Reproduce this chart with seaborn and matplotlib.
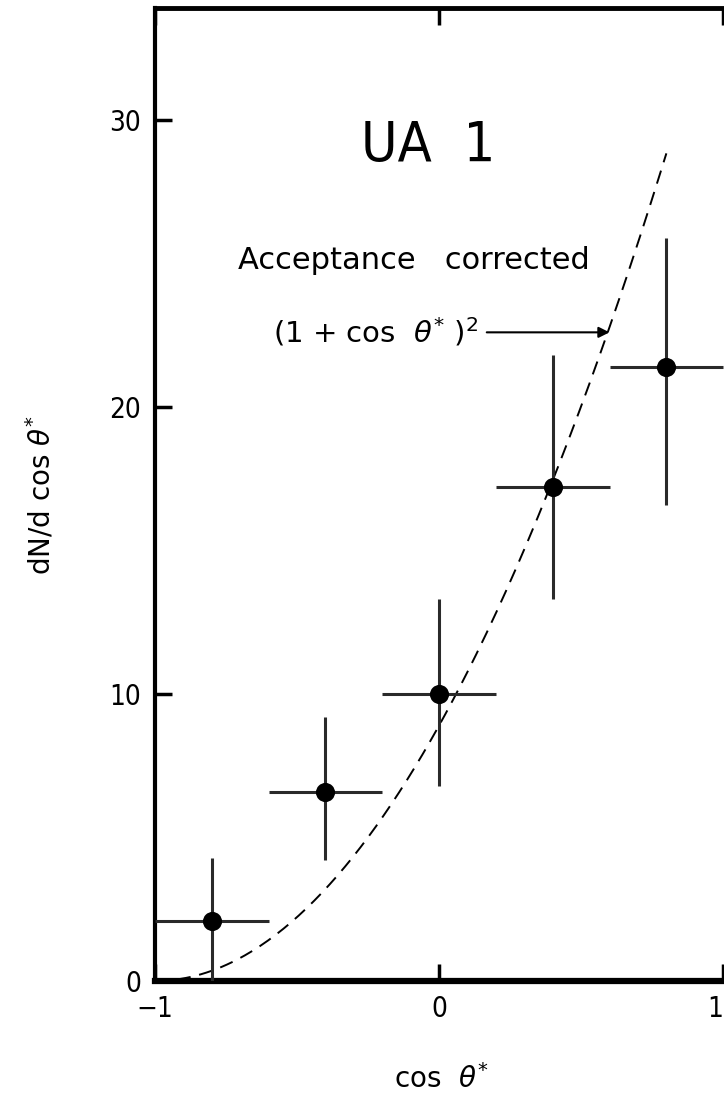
import numpy as np
import pandas as pd
import matplotlib
matplotlib.use("Agg")
import matplotlib.pyplot as plt
import seaborn as sns

# Measured angular distribution (bin centres, counts, errors)
cos_theta = [-0.8, -0.4, 0.0, 0.4, 0.8]
dn_dcos = [2.1, 6.6, 10.0, 17.2, 21.4]
err_up = [2.2, 2.6, 3.3, 4.6, 4.5]
err_down = [2.1, 2.4, 3.2, 3.9, 4.8]
bin_half_width = [0.2, 0.2, 0.2, 0.2, 0.2]

# (1 + cos)^2 expectation, normalisation
norm = 8.9
curve_range = (-1.0, 0.8)

x_ticks = [-1, 0, 1]
x_tick_labels = ["\u22121", "0", "1"]
y_ticks = [0, 10, 20, 30]
y_tick_labels = ["0", "10", "20", "30"]

sns.set_theme(style="ticks")
plt.rcParams["font.family"] = ["DejaVu Sans"]
plt.rcParams["mathtext.fontset"] = "dejavusans"
plt.rcParams["text.color"] = "black"
plt.rcParams["axes.labelcolor"] = "black"

fig = plt.figure(figsize=(7.24, 10.99), dpi=100)
ax = fig.add_axes([0.214, 0.1074, 0.79, 0.8853])

df = pd.DataFrame({"x": cos_theta, "y": dn_dcos})

# theory curve
xc = np.linspace(curve_range[0], curve_range[1], 200)
curve = pd.DataFrame({"x": xc, "y": norm * (1 + xc) ** 2})
sns.lineplot(data=curve, x="x", y="y", ax=ax, color="black", lw=1.4,
             linestyle=(0, (7, 4.5)), zorder=2)

# error bars
ax.errorbar(cos_theta, dn_dcos, yerr=[err_down, err_up], xerr=bin_half_width,
            fmt="none", ecolor="#2a2a2a", elinewidth=2.2, capsize=0, zorder=3)
sns.scatterplot(data=df, x="x", y="y", ax=ax, color="black", s=190,
                edgecolor="black", linewidth=0, zorder=4)

ax.set_xlim(-1.0, 1.013)
ax.set_ylim(0, 33.9)

ax.set_xticks(x_ticks)
ax.set_xticklabels(x_tick_labels, fontsize=20, fontstretch="condensed")
ax.get_xticklabels()[-1].set_horizontalalignment("right")
ax.set_yticks(y_ticks)
ax.set_yticklabels(y_tick_labels, fontsize=20, fontstretch="condensed")
ax.tick_params(axis="both", direction="in", length=12, width=2.5, colors="black", pad=10)
ax.tick_params(axis="x", top=True, labeltop=False)

for side in ["left", "bottom", "top"]:
    ax.spines[side].set_visible(True)
    ax.spines[side].set_color("black")
ax.spines["left"].set_linewidth(3)
ax.spines["bottom"].set_linewidth(4.5)
ax.spines["top"].set_linewidth(3.5)
ax.spines["right"].set_visible(False)

ax.set_xlabel(r"cos  $\theta^{*}$", fontsize=20, labelpad=30)
ax.set_ylabel(r"dN/d cos $\theta^{*}$", fontsize=20, labelpad=38)

ax.text(-0.04, 29.1, "UA  1", fontsize=40, ha="center", va="center",
        fontweight="light", fontstretch="condensed")
ax.text(-0.09, 25.1, "Acceptance   corrected", fontsize=22, ha="center",
        va="center")
ax.annotate(r"(1 + cos  $\theta^{*}$ )$^{2}$", xy=(0.6, 22.6), xytext=(-0.585, 22.6),
            fontsize=21, ha="left", va="center",
            arrowprops=dict(arrowstyle="-|>", color="black", lw=1.5,
                            mutation_scale=16, shrinkA=4, shrinkB=0))

fig.savefig("out.png", dpi=100, facecolor="white")
